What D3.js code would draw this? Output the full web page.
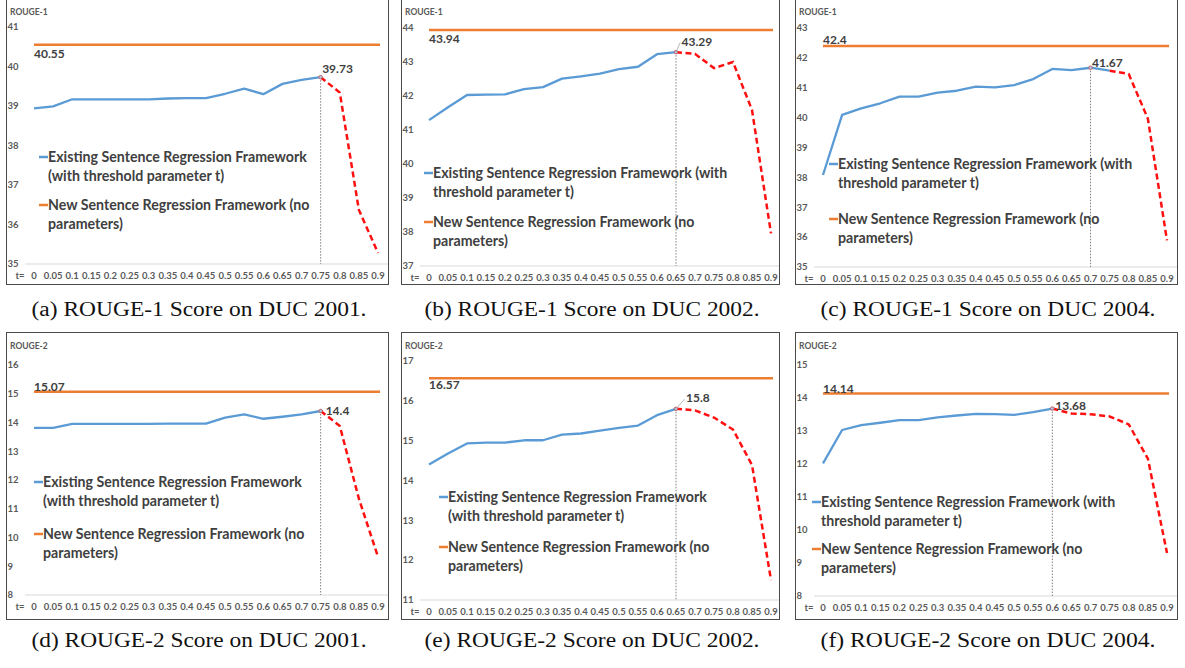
<!DOCTYPE html>
<html>
<head>
<meta charset="utf-8">
<script src="https://cdn.jsdelivr.net/npm/d3@7"></script>
<style>
  body { margin: 0; background: #fff; }
  text { font-family: Lato, "Open Sans", sans-serif; }
  .caption { font-family: "Liberation Serif", "Times New Roman", serif; }
</style>
</head>
<body>
<div id="chart"></div>
<script>
// threshold values on the x axis
const tLabels = ["0", "0.05", "0.1", "0.15", "0.2", "0.25", "0.3", "0.35", "0.4", "0.45",
  "0.5", "0.55", "0.6", "0.65", "0.7", "0.75", "0.8", "0.85", "0.9"];

// existing framework scores (one value per t)
const r1Duc2001 = [38.94, 38.99, 39.17, 39.17, 39.17, 39.17, 39.17, 39.19, 39.2, 39.2,
  39.31, 39.44, 39.30, 39.56, 39.66, 39.73, 39.34, 36.37, 35.28];
const r1Duc2002 = [41.29, 41.67, 42.03, 42.04, 42.05, 42.2, 42.26, 42.51, 42.58, 42.66,
  42.79, 42.86, 43.23, 43.29, 43.24, 42.82, 43.0, 41.59, 37.96];
const r1Duc2004 = [38.08, 40.09, 40.31, 40.48, 40.70, 40.70, 40.84, 40.90, 41.04, 41.01,
  41.09, 41.29, 41.63, 41.59, 41.67, 41.57, 41.46, 39.96, 35.89];
const r2Duc2001 = [13.81, 13.81, 13.95, 13.95, 13.95, 13.95, 13.95, 13.96, 13.96, 13.96,
  14.17, 14.28, 14.13, 14.2, 14.28, 14.4, 13.88, 11.35, 9.33];
const r2Duc2002 = [14.40, 14.68, 14.93, 14.95, 14.95, 15.01, 15.01, 15.15, 15.18, 15.25,
  15.32, 15.38, 15.64, 15.8, 15.76, 15.58, 15.28, 14.39, 11.50];
const r2Duc2004 = [12.02, 13.03, 13.18, 13.25, 13.33, 13.33, 13.41, 13.47, 13.52, 13.51,
  13.49, 13.57, 13.68, 13.53, 13.51, 13.44, 13.2, 12.16, 9.30];

// new framework (no parameters) - constant
const newScores = [40.55, 43.94, 42.4, 15.07, 16.57, 14.14];
const peakIndex = [15, 13, 14, 15, 13, 12];   // best t of the existing framework
const redFrom = [15, 13, 15, 15, 13, 12];     // dashed part starts here
const yDomains = [[35, 41], [37, 44], [35, 43], [8, 16], [11, 17], [8, 15]];
const yTitles = ["ROUGE-1", "ROUGE-1", "ROUGE-1", "ROUGE-2", "ROUGE-2", "ROUGE-2"];
const captions = ["(a) ROUGE-1 Score on DUC 2001.", "(b) ROUGE-1 Score on DUC 2002.",
  "(c) ROUGE-1 Score on DUC 2004.", "(d) ROUGE-2 Score on DUC 2001.",
  "(e) ROUGE-2 Score on DUC 2002.", "(f) ROUGE-2 Score on DUC 2004."];

const legendA = [["Existing Sentence Regression Framework", "(with threshold parameter t)"],
  ["New Sentence Regression Framework (no", "parameters)"]];
const legendB = [["Existing Sentence Regression Framework (with", "threshold parameter t)"],
  ["New Sentence Regression Framework (no", "parameters)"]];

const series = [r1Duc2001, r1Duc2002, r1Duc2004, r2Duc2001, r2Duc2002, r2Duc2004];

// layout of each panel (frame, plot area, label nudges)
const panels = [
  { fx: 6, fy: -2, fw: 382, fh: 286, x0: 34, x1: 378, yTop: 27, yBot: 264, capY: 316,
    newDy: 8.7, peak: { dx: 1.5, dy: -8.6, leader: false }, leg: { x: 39, y: 157, oy: 205, lines: legendA } },
  { fx: 401, fy: -2, fw: 378, fh: 286, x0: 429, x1: 771, yTop: 28, yBot: 266, capY: 316,
    newDy: 9, peak: { dx: 5.6, dy: -10.4, leader: true }, leg: { x: 424, y: 173, oy: 222, lines: legendB } },
  { fx: 795, fy: -2, fw: 382, fh: 286, x0: 823, x1: 1167, yTop: 28, yBot: 267, capY: 316,
    newDy: -6.6, peak: { dx: 1.5, dy: -5, leader: false }, leg: { x: 829, y: 164, oy: 219, lines: legendB } },
  { fx: 6, fy: 332, fw: 382, fh: 287, x0: 34, x1: 378, yTop: 365, yBot: 595, capY: 647,
    newDy: -4.7, peak: { dx: 5, dy: 0, leader: false }, leg: { x: 34, y: 482, oy: 534, lines: legendA } },
  { fx: 401, fy: 332, fw: 378, fh: 287, x0: 429, x1: 771, yTop: 361, yBot: 600, capY: 647,
    newDy: 7, peak: { dx: 10, dy: -10.6, leader: true }, leg: { x: 439, y: 497, oy: 547, lines: legendA } },
  { fx: 795, fy: 332, fw: 382, fh: 287, x0: 823, x1: 1167, yTop: 365, yBot: 596, capY: 647,
    newDy: -5, peak: { dx: 3, dy: -2.5, leader: false }, leg: { x: 812, y: 502, oy: 549, lines: legendB } }
];

const blue = "#5B9BD5", orange = "#ED7D31", red = "#FF1010";
const axisGrey = "#595959", textDark = "#404040";

const svg = d3.select("#chart").append("svg")
  .attr("width", 1185)
  .attr("height", 668);

svg.append("rect").attr("width", 1185).attr("height", 668).attr("fill", "#fff");

panels.forEach((p, k) => {
  const data = series[k];
  const g = svg.append("g");

  // frame
  g.append("rect")
    .attr("x", p.fx + 0.5).attr("y", p.fy + 0.5)
    .attr("width", p.fw).attr("height", p.fh)
    .attr("fill", "none").attr("stroke", "#4a4a4a").attr("stroke-width", 1);

  const x = d3.scalePoint().domain(tLabels).range([p.x0, p.x1]);
  const y = d3.scaleLinear().domain(yDomains[k]).range([p.yBot, p.yTop]);

  // baseline
  g.append("line")
    .attr("x1", p.fx + 19).attr("x2", p.fx + p.fw)
    .attr("y1", y(yDomains[k][0])).attr("y2", y(yDomains[k][0]))
    .attr("stroke", "#d9d9d9").attr("stroke-width", 1);

  // y tick labels
  g.selectAll(".ytick")
    .data(d3.range(yDomains[k][0], yDomains[k][1] + 1))
    .enter().append("text")
    .attr("x", p.fx + 1.5)
    .attr("y", d => y(d))
    .attr("dy", "0.35em")
    .attr("font-size", 9.5).attr("font-weight", 700)
    .attr("fill", axisGrey)
    .text(d => d);

  g.append("text")
    .attr("x", p.fx + 4).attr("y", p.fy + 17)
    .attr("font-size", 8.5).attr("font-weight", 700)
    .attr("fill", axisGrey)
    .text(yTitles[k]);

  // x tick labels
  const xLabY = p.yBot + 12;
  g.append("text")
    .attr("x", p.x0 - 14).attr("y", xLabY).attr("dy", "0.35em")
    .attr("text-anchor", "middle")
    .attr("font-size", 9.5).attr("font-weight", 700).attr("fill", axisGrey)
    .text("t=");
  g.selectAll(".xtick")
    .data(tLabels)
    .enter().append("text")
    .attr("x", d => x(d)).attr("y", xLabY).attr("dy", "0.35em")
    .attr("text-anchor", "middle")
    .attr("font-size", 9.5).attr("font-weight", 700).attr("fill", axisGrey)
    .text(d => d);

  // new framework constant line
  const ny = y(newScores[k]);
  g.append("line")
    .attr("x1", p.x0).attr("x2", p.x1 + 2)
    .attr("y1", ny).attr("y2", ny)
    .attr("stroke", orange).attr("stroke-width", 2.5);
  g.append("text")
    .attr("x", p.x0).attr("y", ny + p.newDy).attr("dy", "0.35em")
    .attr("font-size", 12).attr("font-weight", 700).attr("fill", textDark)
    .text(newScores[k]);

  // dotted drop line at the best t
  const pi = peakIndex[k];
  const px = x(tLabels[pi]), py = y(data[pi]);
  g.append("line")
    .attr("x1", px).attr("x2", px)
    .attr("y1", py).attr("y2", y(yDomains[k][0]))
    .attr("stroke", "#7f7f7f").attr("stroke-width", 1)
    .attr("stroke-dasharray", "1.5,1.5");

  const line = d3.line()
    .x(d => x(d.t))
    .y(d => y(d.v));
  const pts = data.map((v, i) => ({ t: tLabels[i], v: v }));

  g.append("path")
    .datum(pts.slice(0, redFrom[k] + 1))
    .attr("d", line)
    .attr("fill", "none").attr("stroke", blue).attr("stroke-width", 2.3)
    .attr("stroke-linejoin", "round");

  g.append("path")
    .datum(pts.slice(redFrom[k]))
    .attr("d", line)
    .attr("fill", "none").attr("stroke", red).attr("stroke-width", 2.5)
    .attr("stroke-dasharray", "6,3.5");

  g.append("circle")
    .attr("cx", px).attr("cy", py).attr("r", 1.8)
    .attr("fill", "#b0c4e8").attr("stroke", "#c0504d").attr("stroke-width", 0.8);

  // peak label
  if (p.peak.leader) {
    g.append("line")
      .attr("x1", px).attr("y1", py)
      .attr("x2", px + p.peak.dx - 1.5).attr("y2", py + p.peak.dy + 1)
      .attr("stroke", "#a6a6a6").attr("stroke-width", 0.8);
  }
  g.append("text")
    .attr("x", px + p.peak.dx).attr("y", py + p.peak.dy).attr("dy", "0.35em")
    .attr("font-size", 12).attr("font-weight", 700).attr("fill", textDark)
    .text(data[pi]);

  // legend
  const leg = p.leg;
  const items = [{ c: blue, y: leg.y, lines: leg.lines[0] }, { c: orange, y: leg.oy, lines: leg.lines[1] }];
  items.forEach(it => {
    g.append("line")
      .attr("x1", leg.x).attr("x2", leg.x + 9)
      .attr("y1", it.y).attr("y2", it.y)
      .attr("stroke", it.c).attr("stroke-width", 2.5);
    it.lines.forEach((s, j) => {
      g.append("text")
        .attr("x", leg.x + 9).attr("y", it.y + j * 19.3).attr("dy", "0.35em")
        .attr("font-size", 14.2).attr("font-weight", 700).attr("fill", textDark)
        .text(s);
    });
  });

  // caption
  svg.append("text")
    .attr("class", "caption")
    .attr("x", p.fx + p.fw / 2 + 2).attr("y", p.capY)
    .attr("text-anchor", "middle")
    .attr("font-size", 20).attr("fill", "#111")
    .attr("textLength", 335).attr("lengthAdjust", "spacingAndGlyphs")
    .text(captions[k]);
});
</script>
</body>
</html>
